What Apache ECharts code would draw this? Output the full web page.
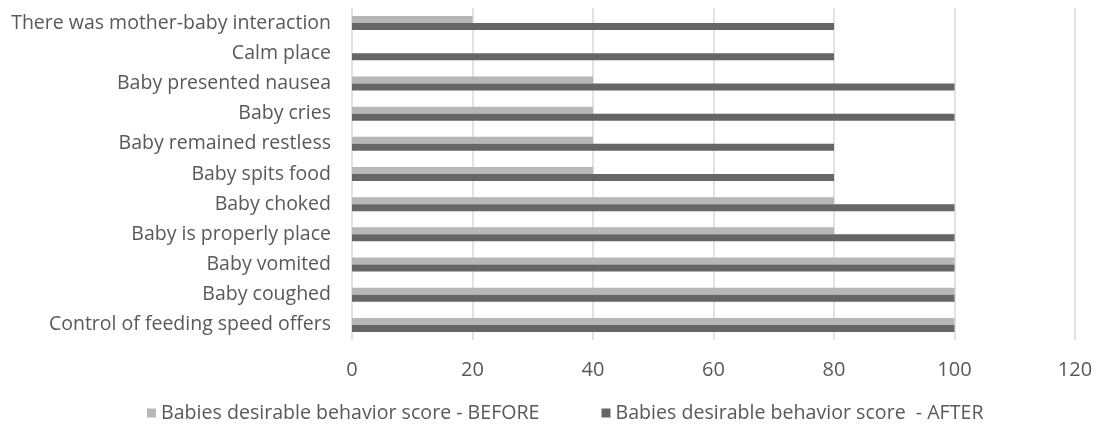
<!DOCTYPE html>
<html>
<head>
<meta charset="utf-8">
<script src="https://cdn.jsdelivr.net/npm/echarts@6/dist/echarts.min.js"></script>
<style>html,body{margin:0;padding:0;background:#fff;}#c{width:1098px;height:432px;}</style>
</head>
<body>
<div id="c"></div>
<script>
const categories = [
  "Control of feeding speed offers",
  "Baby coughed",
  "Baby vomited",
  "Baby is properly place",
  "Baby choked",
  "Baby spits food",
  "Baby remained restless",
  "Baby cries",
  "Baby presented nausea",
  "Calm place",
  "There was mother-baby interaction"
];
const before = [100, 100, 100, 80, 80, 40, 40, 40, 40, 0, 20];
const after = [100, 100, 100, 100, 100, 80, 80, 100, 100, 80, 80];
const seriesNames = ["Babies desirable behavior score - BEFORE", "Babies desirable behavior score  - AFTER"];
const xTicks = [0, 20, 40, 60, 80, 100, 120];

const font = "'Open Sans', sans-serif";
const chart = echarts.init(document.getElementById('c'), null, {renderer: 'canvas'});
chart.setOption({
  animation: false,
  grid: {left: 352, right: 23, top: 8, bottom: 92, containLabel: false},
  legend: {
    bottom: 4, left: 142, itemWidth: 9, itemHeight: 9, itemGap: 62,
    icon: 'rect',
    textStyle: {color: '#595959', fontSize: 19.6, fontFamily: font},
    data: seriesNames
  },
  xAxis: {
    type: 'value', min: xTicks[0], max: xTicks[xTicks.length - 1], interval: 20,
    axisLine: {show: false}, axisTick: {show: false},
    axisLabel: {color: '#595959', fontSize: 20, fontFamily: font, margin: 20},
    splitLine: {show: true, lineStyle: {color: '#d9d9d9', width: 1.5}}
  },
  yAxis: {
    type: 'category', data: categories,
    axisLine: {show: false}, axisTick: {show: false},
    axisLabel: {color: '#595959', fontSize: 19.5, fontFamily: font, margin: 21}
  },
  series: [
    {name: seriesNames[0], type: 'bar', data: before, barWidth: 7, barGap: '0%', itemStyle: {color: '#b7b7b7'}},
    {name: seriesNames[1], type: 'bar', data: after, barWidth: 7, barGap: '0%', itemStyle: {color: '#666666'}}
  ]
});
</script>
</body>
</html>
